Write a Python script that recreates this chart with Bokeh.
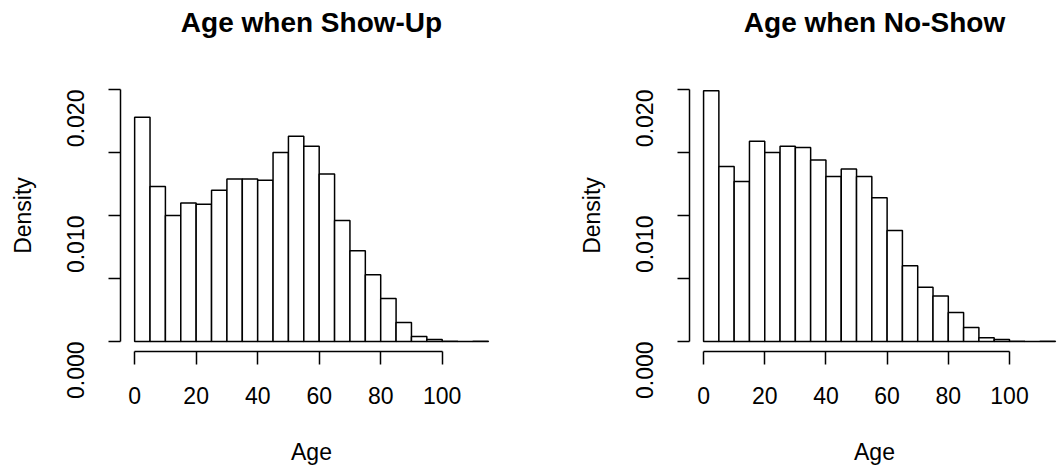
import math
from bokeh.plotting import figure
from bokeh.layouts import row
from bokeh.models import FixedTicker, NumeralTickFormatter, ColumnDataSource, LinearAxis
from bokeh.embed import file_html
from bokeh.resources import INLINE

# ---- data ----
age_bins = [0, 5, 10, 15, 20, 25, 30, 35, 40, 45, 50, 55, 60, 65, 70, 75, 80, 85, 90, 95, 100, 105, 110, 115]
show_density = [0.0178, 0.0123, 0.0100, 0.0110, 0.0109, 0.0120, 0.0129, 0.0129, 0.0128, 0.0150,
                0.0163, 0.0155, 0.0133, 0.0096, 0.0072, 0.0053, 0.0034, 0.0015, 0.0004, 0.00015,
                0.00002, 0.0, 0.00001]
noshow_density = [0.0199, 0.0139, 0.0127, 0.0159, 0.0150, 0.0155, 0.0154, 0.0144, 0.0131, 0.0137,
                  0.0131, 0.0114, 0.0088, 0.0060, 0.0043, 0.0036, 0.0023, 0.0011, 0.0003, 0.00016,
                  0.00002, 0.0, 0.00001]
x_ticks = [0, 20, 40, 60, 80, 100]
y_ticks = [0.0, 0.010, 0.020]
y_minor_ticks = [0.005, 0.015]
titles = ["Age when Show-Up", "Age when No-Show"]
x_label = "Age"
y_label = "Density"

FONT = "Liberation Sans"
X0, X1 = -4.6, 119.6
Y0, Y1 = -0.0008, 0.0208
FIG_H = 470
BORDER_T, BORDER_B = 79, 119
FRAME_W = 382
PX_PER_UNIT = FRAME_W / (X1 - X0)


def panel(title, dens, width, border_l, border_r):
    frame_w = width - border_l - border_r
    x_end = X0 + frame_w / PX_PER_UNIT
    p = figure(width=width, height=FIG_H, x_range=(X0, x_end), y_range=(Y0, Y1),
               output_backend="svg", toolbar_location=None, title=title,
               min_border_left=border_l, min_border_right=border_r,
               min_border_top=BORDER_T, min_border_bottom=BORDER_B)
    p.outline_line_color = None
    p.xgrid.visible = False
    p.ygrid.visible = False
    p.background_fill_color = "white"
    p.border_fill_color = "white"

    p.title.align = "center"
    p.title.text_font = FONT
    p.title.text_font_size = "28px"
    p.title.text_font_style = "bold"
    p.title.text_color = "black"
    p.title.standoff = 8

    xa = p.below[0]
    ya = p.left[0]

    # invisible spacer panel between the title and the plotting area
    spacer = LinearAxis(ticker=FixedTicker(ticks=[50]), axis_line_color=None,
                        major_tick_line_color="white", minor_tick_line_color=None,
                        major_tick_in=0, major_tick_out=38, minor_tick_out=0,
                        major_label_overrides={50: ""}, major_label_standoff=0,
                        major_label_text_font_size="1px")
    p.add_layout(spacer, "above")

    src = ColumnDataSource(dict(left=age_bins[:-1], right=age_bins[1:], top=dens))
    p.quad(left="left", right="right", top="top", bottom=0, source=src,
           fill_color="white", line_color="black", line_width=1.5)

    xa.ticker = FixedTicker(ticks=x_ticks)
    xa.bounds = (0, 100)
    xa.axis_label = x_label
    ya.ticker = FixedTicker(ticks=y_ticks, minor_ticks=y_minor_ticks)
    ya.formatter = NumeralTickFormatter(format="0.000")
    ya.bounds = (0, 0.02)
    ya.major_label_orientation = math.pi / 2
    ya.axis_label = y_label
    for ax in (xa, ya):
        ax.axis_line_color = "black"
        ax.axis_line_width = 1.5
        ax.major_tick_line_color = "black"
        ax.major_tick_line_width = 1.5
        ax.major_tick_in = 0
        ax.major_label_text_font = FONT
        ax.major_label_text_font_size = "23px"
        ax.major_label_text_color = "black"
        ax.axis_label_text_font = FONT
        ax.axis_label_text_font_size = "23px"
        ax.axis_label_text_font_style = "normal"
        ax.axis_label_text_color = "black"
    xa.major_tick_out = 13
    xa.major_label_standoff = 22
    xa.axis_label_standoff = 32
    xa.minor_tick_line_color = None
    ya.major_tick_out = 12
    ya.minor_tick_out = 12
    ya.minor_tick_in = 0
    ya.minor_tick_line_color = "black"
    ya.minor_tick_line_width = 1.5
    ya.major_label_standoff = 33
    ya.axis_label_standoff = 20
    return p


p1 = panel(titles[0], show_density, 575, 120, 73)
p2 = panel(titles[1], noshow_density, 484, 112, 0)
layout = row(p1, p2)

open("out.html", "w").write(file_html(layout, INLINE))
